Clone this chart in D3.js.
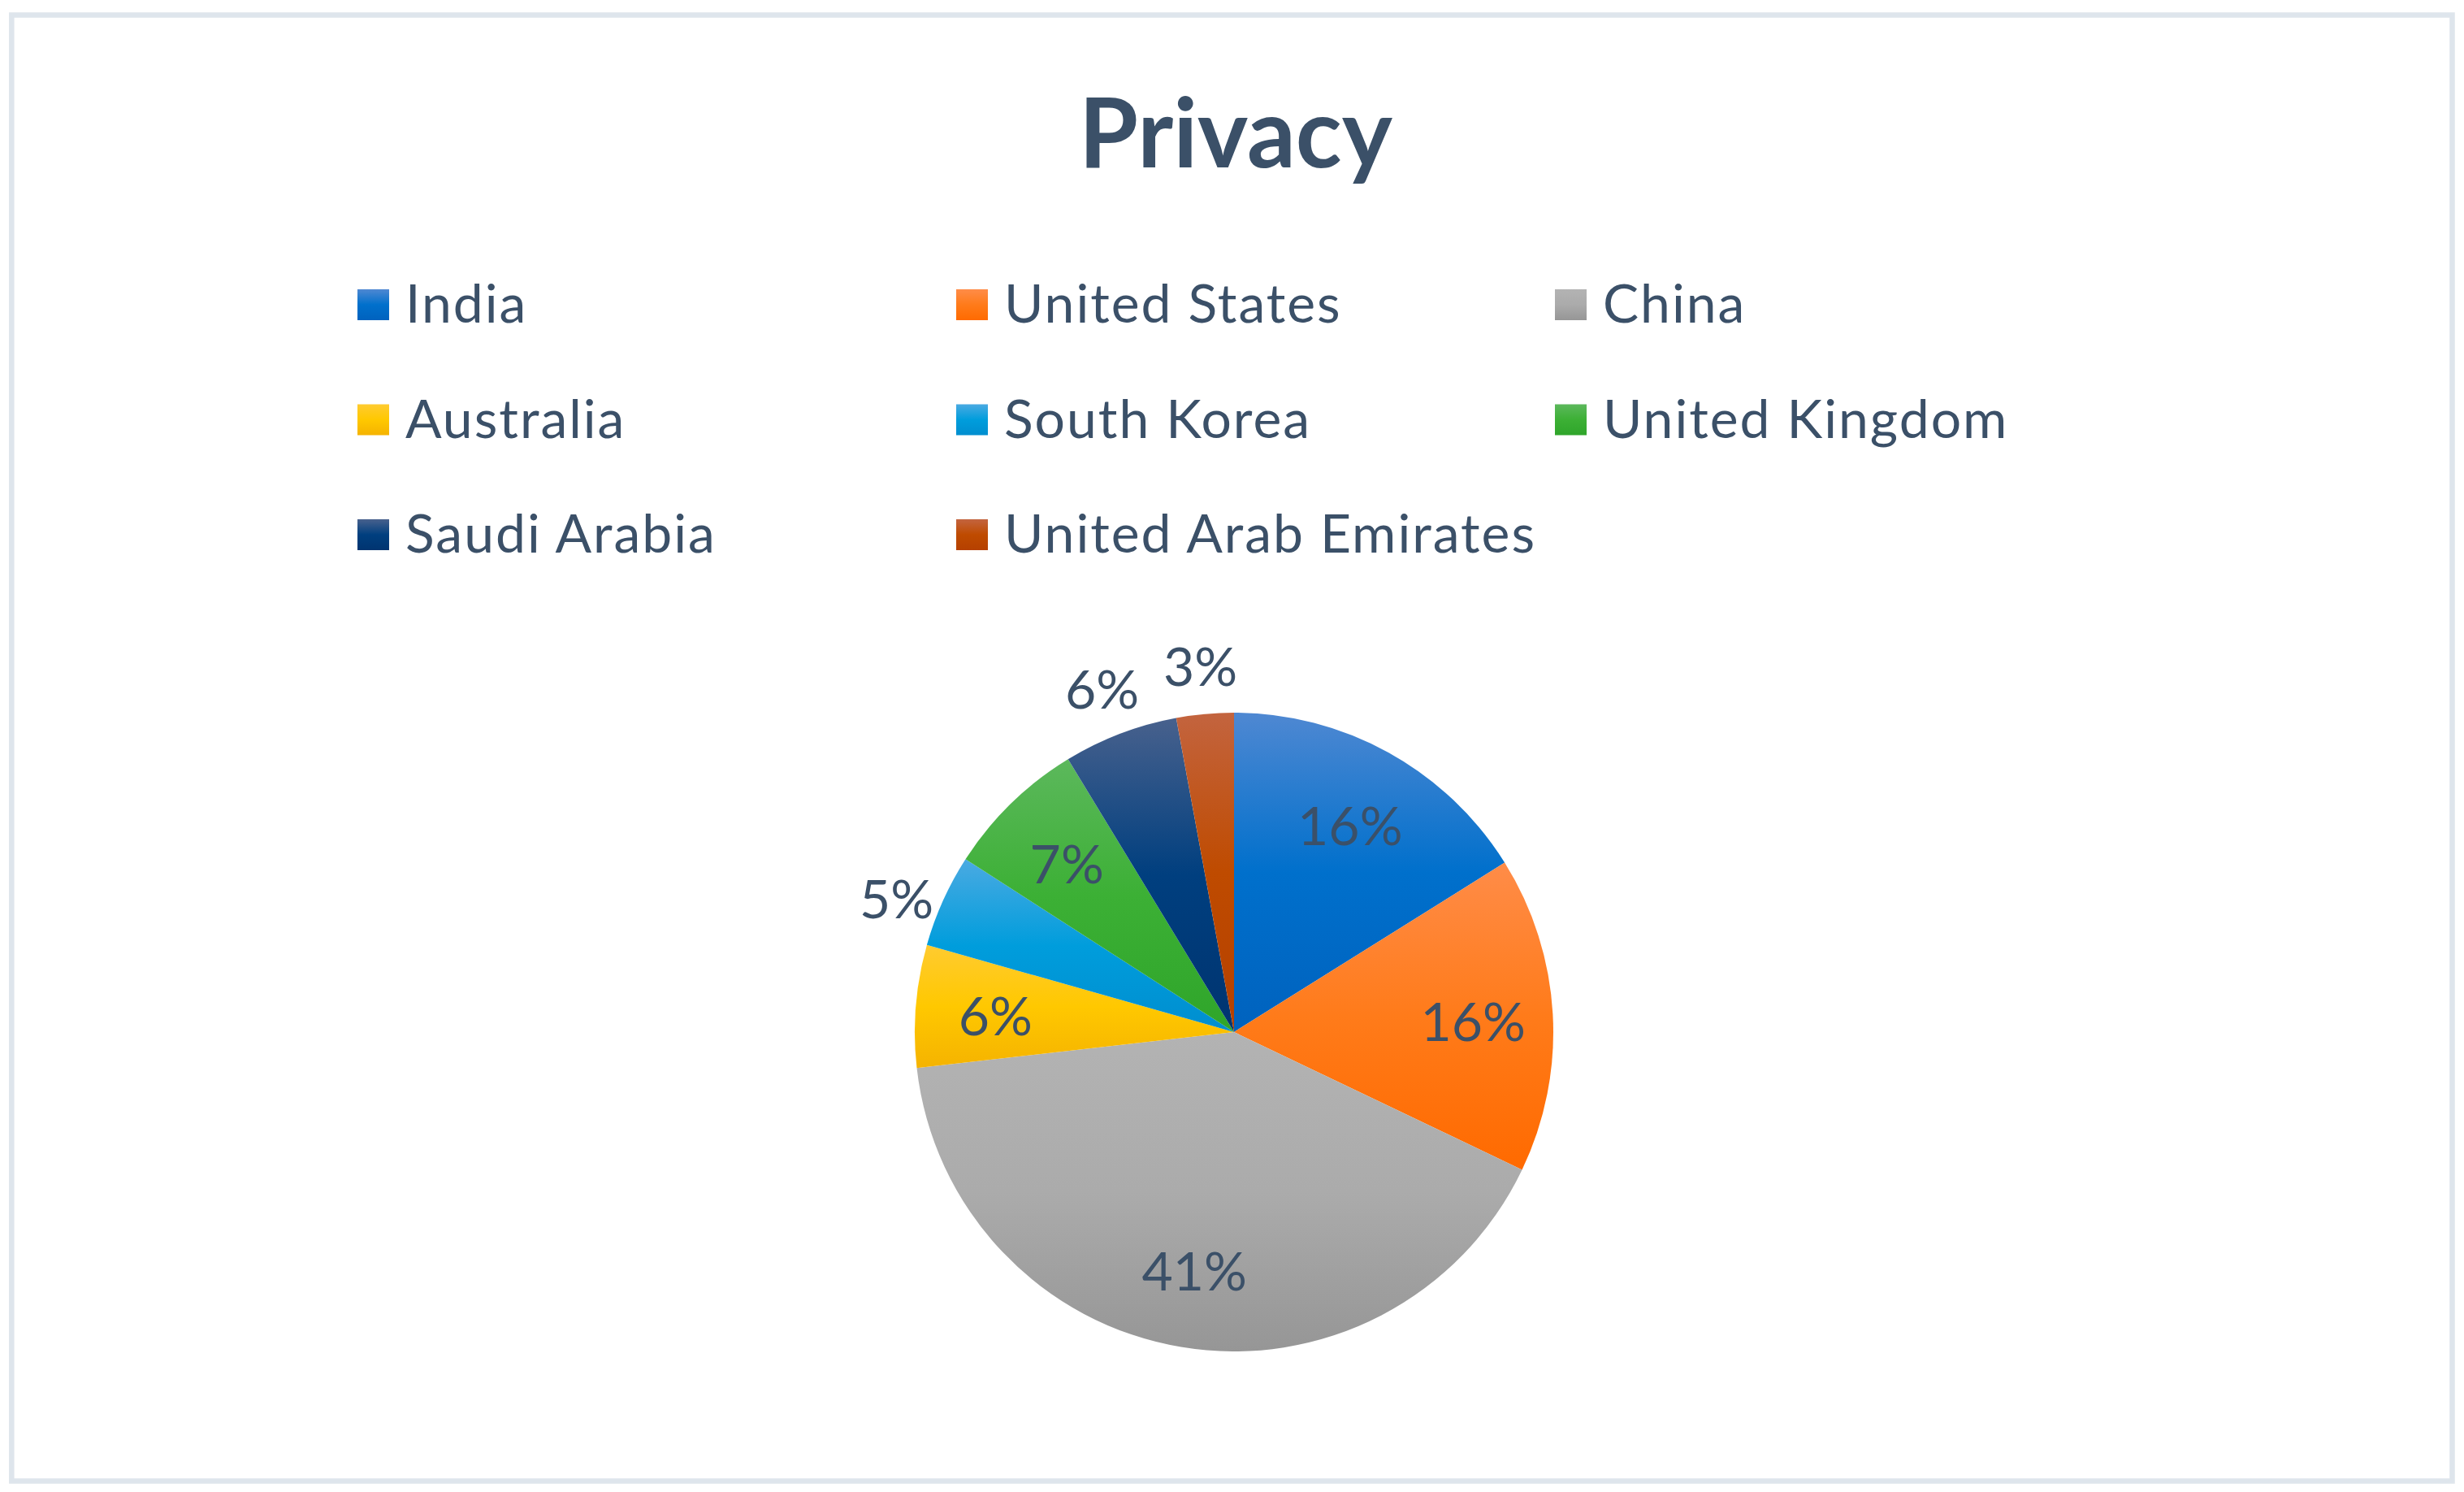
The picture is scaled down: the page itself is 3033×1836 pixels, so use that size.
<!DOCTYPE html>
<html>
<head>
<meta charset="utf-8">
<script src="https://cdn.jsdelivr.net/npm/d3@7"></script>
<style>
  html, body { margin:0; padding:0; background:#fff; }
  svg text { font-family: Lato, "Noto Sans", sans-serif; fill:#3b5068; }
</style>
</head>
<body>
<svg id="chart" width="3033" height="1836"></svg>
<script>
"use strict";

// Privacy pie: share of mentions per country
const countries = ["India","United States","China","Australia","South Korea",
                   "United Kingdom","Saudi Arabia","United Arab Emirates"];
const shares = [16.1, 16.0, 41.1, 6.2, 4.7, 7.2, 5.8, 2.9];
// gradient stops per slice: light top, base, darker bottom
const fills = [
  ["#4f88d2","#0070cc","#0062be"],
  ["#ff8c48","#ff7b1a","#ff6a00"],
  ["#b3b3b3","#ababab","#969696"],
  ["#ffcb30","#ffc800","#f5b300"],
  ["#4aaae2","#009ddc","#008ecf"],
  ["#5cb85c","#3cb035","#2fa52a"],
  ["#48618d","#003f7f","#003470"],
  ["#c3643f","#bf4b00","#b54000"]
];

const svg = d3.select("#chart"),
      W = +svg.attr("width"),
      H = +svg.attr("height");

// ---- frame
svg.append("rect").attr("x",14.3).attr("y",18.5).attr("width",W-28.8).attr("height",H-32)
  .attr("fill","#fff").attr("stroke","#dee5ec").attr("stroke-width",6.5);

// ---- gradients
const defs = svg.append("defs");
fills.forEach((f,i)=>{
  const gr = defs.append("linearGradient").attr("id",`grad${i}`)
    .attr("x1",0).attr("y1",0).attr("x2",0).attr("y2",1);
  gr.append("stop").attr("offset","0%").attr("stop-color",f[0]);
  gr.append("stop").attr("offset","50%").attr("stop-color",f[1]);
  gr.append("stop").attr("offset","100%").attr("stop-color",f[2]);
});

// ---- title
svg.append("text").attr("x",1521).attr("y",206).attr("text-anchor","middle")
  .style("font-weight","700").style("font-size","118px").text("Privacy");

// ---- legend (3 columns)
const colX = d3.scalePoint().domain([0,1,2]).range([440,1914]);
const rowY = d3.scalePoint().domain([0,1,2]).range([375,658]);
const legend = svg.append("g");
countries.forEach((c,i)=>{
  const row = legend.append("g")
    .attr("transform",`translate(${colX(i%3)},${rowY(Math.floor(i/3))})`);
  row.append("rect").attr("x",0).attr("y",-19).attr("width",39).attr("height",38)
    .attr("fill",`url(#grad${i})`);
  row.append("text").attr("x",59).attr("y",22).style("font-size","66px")
    .style("letter-spacing","2px").text(c);
});

// ---- pie
const cx = 1519, cy = 1270, R = 393;
const total = d3.sum(shares);
const pie = d3.pie().sort(null).value(d=>d.v);
const arcs = pie(shares.map((v,i)=>({v,i})));
const arc = d3.arc().innerRadius(0).outerRadius(R);
const inArc = d3.arc().innerRadius(R*0.5).outerRadius(R);
const outArc = d3.arc().innerRadius(R*1.16).outerRadius(R*1.16);

const g = svg.append("g").attr("transform",`translate(${cx},${cy})`);
g.selectAll("path").data(arcs).enter().append("path")
  .attr("d",arc).attr("fill",d=>`url(#grad${d.data.i})`);

g.selectAll("text.lbl").data(arcs).enter().append("text").attr("class","lbl")
  .attr("transform",d=>{
    const [x,y] = (d.data.v<6 ? outArc : inArc).centroid(d);
    return `translate(${x},${d.data.v<6 && x<-300 ? y+20 : y})`;
  })
  .attr("text-anchor","middle").attr("dy","0.42em").style("font-size","66px")
  .text(d=>`${Math.round(d.data.v/total*100)}%`);
</script>
</body>
</html>
